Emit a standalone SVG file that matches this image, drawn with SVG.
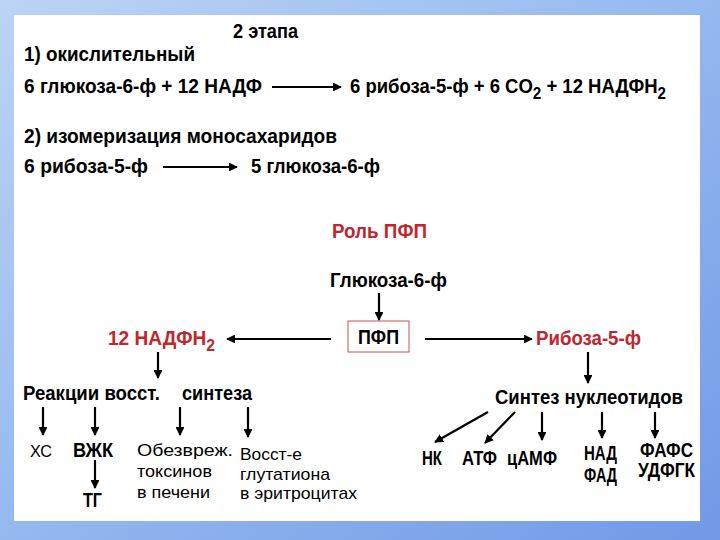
<svg xmlns="http://www.w3.org/2000/svg" width="720" height="540" viewBox="0 0 720 540">
<defs>
<linearGradient id="bg" x1="0" y1="0" x2="1" y2="1">
<stop offset="0" stop-color="#bcd4f5"/>
<stop offset="0.5" stop-color="#95b8ef"/>
<stop offset="1" stop-color="#7199e6"/>
</linearGradient>
<marker id="ah" viewBox="0 0 10 10" refX="9" refY="5" markerWidth="4" markerHeight="4" orient="auto" markerUnits="strokeWidth">
<path d="M0,0 L10,5 L0,10 z" fill="#000"/>
</marker>
<style>
.b{font-family:"Liberation Sans",Arial,sans-serif;font-weight:bold;font-size:19.5px;fill:#000}
.r{font-family:"Liberation Sans",Arial,sans-serif;font-weight:normal;font-size:17px;fill:#000}
.red{fill:#c0272d}
.sub{font-size:16px}
.ca{stroke:#000;stroke-width:2.2;fill:none;marker-end:url(#ah)}
</style>
</defs>
<rect x="0" y="0" width="720" height="540" fill="url(#bg)"/>
<rect x="14" y="15" width="686" height="506" fill="#ffffff"/>

<g id="title"><text class="b" x="233" y="38" textLength="65" lengthAdjust="spacingAndGlyphs">2 этапа</text></g>
<g id="stage1">
<text class="b" x="24" y="61" textLength="171" lengthAdjust="spacingAndGlyphs">1) окислительный</text>
<text class="b" x="24" y="93" textLength="238" lengthAdjust="spacingAndGlyphs">6 глюкоза-6-ф + 12 НАДФ</text>
<text class="b" x="350" y="93" textLength="316" lengthAdjust="spacingAndGlyphs">6 рибоза-5-ф + 6 CO<tspan class="sub" dy="6">2</tspan><tspan dy="-6"> + 12 НАДФН</tspan><tspan class="sub" dy="6">2</tspan></text>
</g>
<g id="stage2">
<text class="b" x="24" y="143" textLength="313" lengthAdjust="spacingAndGlyphs">2) изомеризация моносахаридов</text>
<text class="b" x="24" y="173" textLength="124" lengthAdjust="spacingAndGlyphs">6 рибоза-5-ф</text>
<text class="b" x="251" y="173" textLength="129" lengthAdjust="spacingAndGlyphs">5 глюкоза-6-ф</text>
</g>
<g id="role"><text class="b red" x="332" y="238" textLength="95" lengthAdjust="spacingAndGlyphs">Роль ПФП</text></g>
<g id="g6p"><text class="b" x="330" y="287" textLength="117" lengthAdjust="spacingAndGlyphs">Глюкоза-6-ф</text></g>
<g id="ppp">
<rect x="348" y="321" width="61" height="31" fill="#fff" stroke="#c85050" stroke-width="1"/>
<text class="b" x="358" y="344" textLength="41" lengthAdjust="spacingAndGlyphs">ПФП</text>
</g>
<g id="nadph">
<text class="b red" x="108" y="345" textLength="107" lengthAdjust="spacingAndGlyphs">12 НАДФН<tspan class="sub" dy="6">2</tspan></text>
</g>
<g id="ribose"><text class="b red" x="536" y="345" textLength="105" lengthAdjust="spacingAndGlyphs">Рибоза-5-ф</text></g>
<g id="reactions">
<text class="b" x="23" y="400" textLength="137" lengthAdjust="spacingAndGlyphs">Реакции восст.</text>
<text class="b" x="182" y="400" textLength="70" lengthAdjust="spacingAndGlyphs">синтеза</text>
</g>
<g id="xc"><text class="r" x="30" y="457" font-size="19" textLength="22" lengthAdjust="spacingAndGlyphs">ХС</text></g>
<g id="vzhk"><text class="b" x="73" y="457" font-size="18" textLength="40" lengthAdjust="spacingAndGlyphs">ВЖК</text></g>
<g id="tg"><text class="b" x="83" y="507" textLength="19" lengthAdjust="spacingAndGlyphs">ТГ</text></g>
<g id="detox">
<text class="r" x="137" y="456" textLength="96" lengthAdjust="spacingAndGlyphs">Обезвреж.</text>
<text class="r" x="137" y="477" textLength="75" lengthAdjust="spacingAndGlyphs">токсинов</text>
<text class="r" x="137" y="498" textLength="73" lengthAdjust="spacingAndGlyphs">в печени</text>
</g>
<g id="glut">
<text class="r" x="240" y="460" textLength="62" lengthAdjust="spacingAndGlyphs">Восст-е</text>
<text class="r" x="240" y="480" textLength="90" lengthAdjust="spacingAndGlyphs">глутатиона</text>
<text class="r" x="240" y="499" textLength="117" lengthAdjust="spacingAndGlyphs">в эритроцитах</text>
</g>
<g id="nucl"><text class="b" x="495" y="404" textLength="188" lengthAdjust="spacingAndGlyphs">Синтез нуклеотидов</text></g>
<g id="nk"><text class="b" x="422" y="465" font-size="18" textLength="20" lengthAdjust="spacingAndGlyphs">НК</text></g>
<g id="atp"><text class="b" x="462" y="465" font-size="18" textLength="35" lengthAdjust="spacingAndGlyphs">АТФ</text></g>
<g id="camp"><text class="b" x="507" y="465" font-size="18" textLength="50" lengthAdjust="spacingAndGlyphs">цАМФ</text></g>
<g id="nad">
<text class="b" x="584" y="460" textLength="33" lengthAdjust="spacingAndGlyphs">НАД</text>
<text class="b" x="584" y="482" textLength="33" lengthAdjust="spacingAndGlyphs">ФАД</text>
</g>
<g id="fafs">
<text class="b" x="640" y="457" font-size="18" textLength="53" lengthAdjust="spacingAndGlyphs">ФАФС</text>
<text class="b" x="638" y="477" font-size="18" textLength="57" lengthAdjust="spacingAndGlyphs">УДФГК</text>
</g>

<g id="connectors">
<line class="ca" x1="272" y1="87" x2="341" y2="87"/>
<line class="ca" x1="163" y1="167" x2="237" y2="167"/>
<line class="ca" x1="379" y1="293" x2="379" y2="320"/>
<line class="ca" x1="331" y1="339" x2="227" y2="339"/>
<line class="ca" x1="425" y1="339" x2="532" y2="339"/>
<line class="ca" x1="158" y1="352" x2="158" y2="378"/>
<line class="ca" x1="588" y1="352" x2="588" y2="383"/>
<line class="ca" x1="43" y1="407" x2="43" y2="435"/>
<line class="ca" x1="95" y1="407" x2="95" y2="435"/>
<line class="ca" x1="180" y1="407" x2="180" y2="435"/>
<line class="ca" x1="248" y1="407" x2="248" y2="437"/>
<line class="ca" x1="95" y1="460" x2="95" y2="488"/>
<line class="ca" x1="488" y1="412" x2="435" y2="442"/>
<line class="ca" x1="515" y1="412" x2="485" y2="443"/>
<line class="ca" x1="542" y1="412" x2="542" y2="440"/>
<line class="ca" x1="602" y1="412" x2="602" y2="438"/>
<line class="ca" x1="655" y1="412" x2="655" y2="438"/>
</g>
</svg>
